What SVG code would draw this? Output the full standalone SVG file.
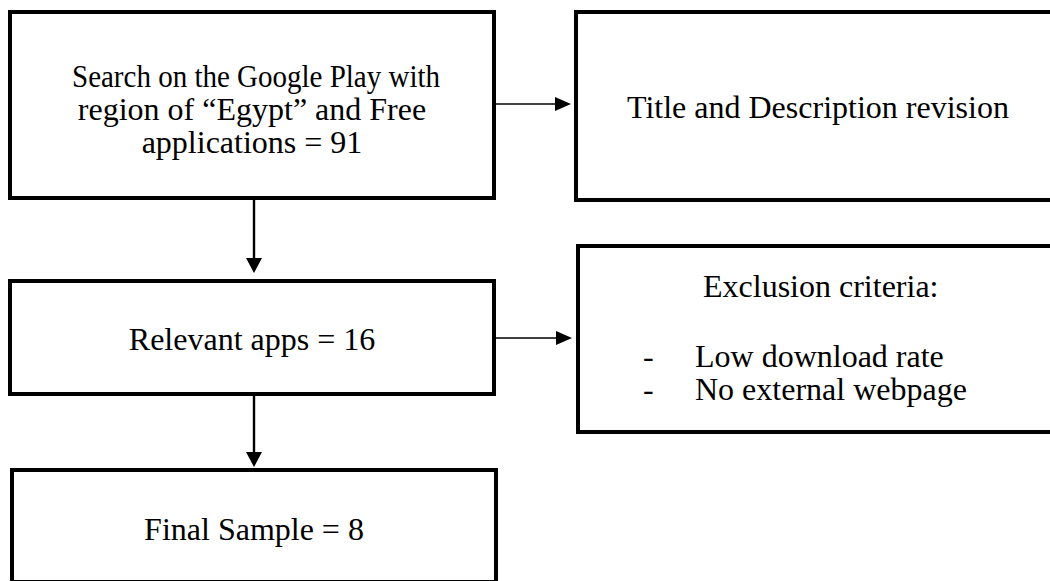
<svg xmlns="http://www.w3.org/2000/svg" width="1050" height="581" viewBox="0 0 1050 581">
  <style>
    .box { fill: #ffffff; stroke: #000000; stroke-width: 4; }
    .lbl { font-family: "Liberation Serif", "Times New Roman", serif; font-size: 32px; fill: #000000; }
    .mid { text-anchor: middle; }
    .hline { stroke: #000000; stroke-width: 1.4; fill: none; }
    .vline { stroke: #000000; stroke-width: 2.4; fill: none; }
    .head { fill: #000000; }
  </style>
  <rect width="1050" height="581" fill="#ffffff"/>

  <!-- connectors -->
  <g id="connectors">
    <line class="hline" x1="494" y1="104" x2="556" y2="104"/>
    <polygon class="head" points="555,97 571,104 555,111"/>
    <line class="hline" x1="494" y1="338" x2="557" y2="338"/>
    <polygon class="head" points="556,331 572,338 556,345"/>
    <line class="vline" x1="254" y1="198" x2="254" y2="259"/>
    <polygon class="head" points="246,258 262,258 254,273"/>
    <line class="vline" x1="254" y1="394" x2="254" y2="453"/>
    <polygon class="head" points="246,452 262,452 254,467"/>
  </g>

  <g id="node-search">
    <rect class="box" x="10" y="12" width="484" height="186"/>
    <text class="lbl" x="72" y="87" textLength="368" lengthAdjust="spacingAndGlyphs">Search on the Google Play with</text>
    <text class="lbl mid" x="252" y="120">region of “Egypt” and Free</text>
    <text class="lbl mid" x="252" y="153">applications = 91</text>
  </g>

  <g id="node-title">
    <rect class="box" x="576" y="12" width="490" height="188"/>
    <text class="lbl" x="627" y="118">Title and Description revision</text>
  </g>

  <g id="node-relevant">
    <rect class="box" x="10" y="281" width="484" height="113"/>
    <text class="lbl mid" x="252" y="350">Relevant apps = 16</text>
  </g>

  <g id="node-exclusion">
    <rect class="box" x="578" y="246" width="490" height="186"/>
    <text class="lbl" x="703" y="297">Exclusion criteria:</text>
    <text class="lbl" x="643" y="367">-</text>
    <text class="lbl" x="695" y="367">Low download rate</text>
    <text class="lbl" x="643" y="400">-</text>
    <text class="lbl" x="695" y="400">No external webpage</text>
  </g>

  <g id="node-final">
    <rect class="box" x="12" y="470" width="484" height="112"/>
    <text class="lbl mid" x="254" y="540">Final Sample = 8</text>
  </g>
</svg>
